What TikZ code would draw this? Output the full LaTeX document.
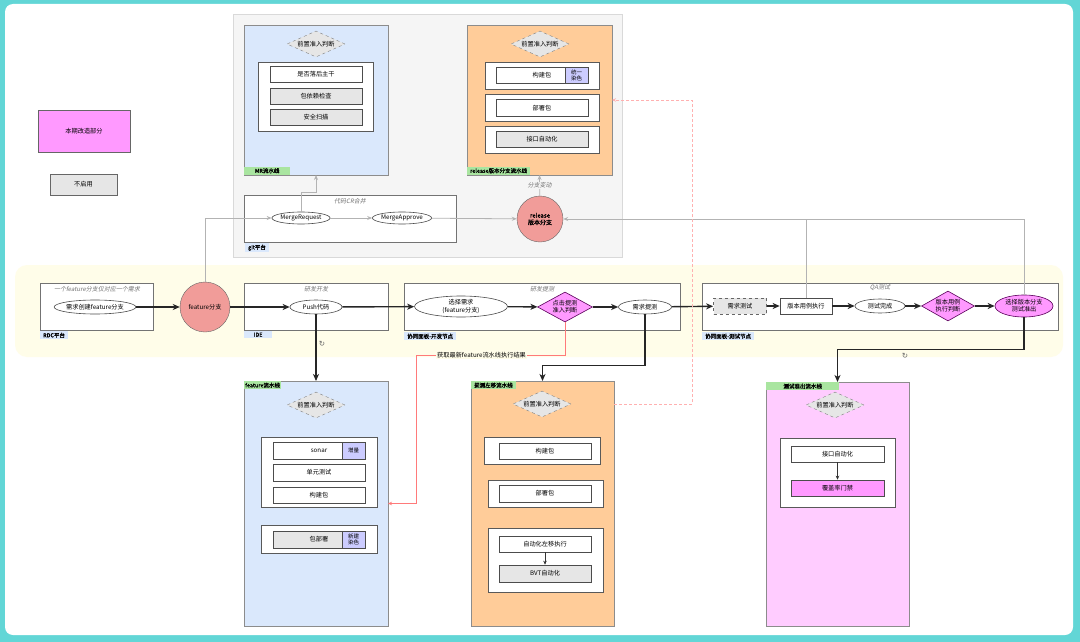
\documentclass[tikz,border=0pt]{standalone}
\usepackage{fontspec}
\setmainfont{Noto Sans CJK SC}
\newfontfamily\kursiv{Noto Sans CJK SC}[FakeSlant=0.2]
\newfontfamily\fett{Noto Sans CJK SC}[FakeBold=1.2]
\newfontfamily\symbole{DejaVu Sans}
\usetikzlibrary{shapes.geometric,arrows.meta,positioning}

\definecolor{rahmen}{HTML}{62D6D6}
\definecolor{hellblau}{HTML}{DAE8FC}
\definecolor{orangepipe}{HTML}{FFCC99}
\definecolor{rosapipe}{HTML}{FFCCFF}
\definecolor{pinkfill}{HTML}{FF99FF}
\definecolor{lila}{HTML}{CCCCFF}
\definecolor{gruen}{HTML}{A9E5A0}
\definecolor{grau}{HTML}{E6E6E6}
\definecolor{gitbg}{HTML}{F5F5F5}
\definecolor{band}{HTML}{FFFDE9}
\definecolor{kreisrot}{HTML}{F19C99}
\definecolor{linierot}{HTML}{FF7A7A}
\definecolor{linierosa}{HTML}{FFB0B0}
\definecolor{verbgrau}{HTML}{B3B3B3}

\begin{document}
\begin{tikzpicture}[x=1pt,y=-1pt,font=\fontsize{6.2}{7.2}\selectfont,
		pipe/.style={draw=black!45,line width=0.7pt,anchor=north west,inner sep=0pt,outer sep=0pt},
		tag/.style={anchor=north west,inner xsep=3pt,inner ysep=1.5pt,font=\fett\fontsize{5.5}{6}\selectfont},
		huelle/.style={draw=black!65,line width=0.6pt,fill=white},
		bereich/.style={draw=black!55,line width=0.7pt,fill=white},
		titel/.style={font=\kursiv\fontsize{6}{7}\selectfont,text=black!55},
		stufe/.style={draw=black!70,line width=0.6pt,fill=white,minimum width=92,minimum height=16,inner sep=0pt},
		farbe/.style={draw=black!70,line width=0.6pt,fill=lila,minimum width=23,minimum height=16,inner sep=0pt,align=center,font=\fontsize{5.5}{6}\selectfont},
		gate/.style={diamond,draw=black!50,dashed,fill=grau,minimum width=58,minimum height=26,aspect=2.2,inner sep=0pt},
		pinkraute/.style={diamond,draw=violet!70!black,line width=0.6pt,fill=pinkfill,minimum width=55,minimum height=30,aspect=1.8,inner sep=0pt,align=center},
		oval/.style={ellipse,draw=black!70,line width=0.6pt,fill=white,inner sep=0pt,minimum height=14},
		fluss/.style={draw=black!85,line width=1.4pt,-{Stealth[length=7pt,width=6pt,inset=2pt]}},
		graupfeil/.style={draw=verbgrau,line width=0.8pt,-{Stealth[length=5pt,width=4pt]}},
		dreh/.style={font=\symbole\fontsize{7.5}{7.5}\selectfont,text=black!60}]
	
	\useasboundingbox (0,0) rectangle (1080,642);
	
	% ----- Rahmen -----
	\fill[rahmen] (0,0) rectangle (1080,642);
	\fill[white,rounded corners=8pt] (5,4) rectangle (1073,635);
	
	% ----- Legende -----
	\node[pipe,fill=pinkfill,draw=black!60,minimum width=92,minimum height=42] (legneu) at (38,110) {本期改造部分};
	\node[pipe,fill=grau,draw=black!60,minimum width=67,minimum height=21] (legaus) at (50,174) {不启用};
	
	% ----- git平台 -----
	\draw[draw=black!15,fill=gitbg] (233,14) rectangle (622,257);
	
	% MR流水线
	\node[pipe,fill=hellblau,minimum width=144,minimum height=150] (mrpipe) at (244,25) {};
	\node[tag,fill=gruen,anchor=south west,minimum width=46] at (mrpipe.south west) {MR流水线};
	\node[gate] (mrgate) at (316,44) {前置准入判断};
	\draw[huelle] (258,62) rectangle (373,131);
	\node[stufe] (mrlag) at (316,74) {是否落后主干};
	\node[stufe,fill=grau] (mrdep) at (316,96) {包依赖检查};
	\node[stufe,fill=grau] (mrscan) at (316,117.5) {安全扫描};
	
	% release版本分支流水线
	\node[pipe,fill=orangepipe,minimum width=145,minimum height=150] (relpipe) at (467,25) {};
	\node[tag,fill=gruen,anchor=south west] at (relpipe.south west) {release版本分支流水线};
	\node[gate] (relgate) at (540,44) {前置准入判断};
	\draw[huelle] (485,62) rectangle (599,89);
	\node[stufe] (relbuild) at (542,75) {构建包};
	\node[farbe] (relcolor) at (576.5,75) {统一\\染色};
	\draw[huelle] (485,94) rectangle (599,121);
	\node[stufe,minimum height=17] (reldeploy) at (542,108) {部署包};
	\draw[huelle] (485,126) rectangle (599,153);
	\node[stufe,fill=grau] (relapi) at (542,139.5) {接口自动化};
	
	% 代码CR合并
	\draw[bereich] (244,195) rectangle (456,242);
	\node[titel] (crtitel) at (350,201) {代码CR合并};
	\node[tag,fill=hellblau] at (245,243) {git平台};
	\node[oval,minimum width=51,minimum height=12] (mreq) at (301,218) {MergeRequest};
	\node[oval,minimum width=50,minimum height=12] (mappr) at (402,218) {MergeApprove};
	\node[circle,draw=black!60,fill=kreisrot,minimum size=46,inner sep=0pt,align=center,font=\fett\fontsize{6}{7}\selectfont] (relbr) at (540,219) {release\\版本分支};
	
	% ----- Hauptstrecke -----
	\fill[band,rounded corners=12pt] (15,265) rectangle (1063,357);
	
	% RDC平台
	\draw[bereich] (40,283) rectangle (153,330);
	\node[titel] at (97,289) {一个feature分支仅对应一个需求};
	\node[tag,fill=hellblau] at (40,331) {RDC平台};
	\node[oval,minimum width=80] (bedarf) at (95,307) {需求创建feature分支};
	
	\node[circle,draw=black!60,fill=kreisrot,minimum size=50,inner sep=0pt] (featbr) at (205,307) {feature分支};
	
	% IDE
	\draw[bereich] (244,283) rectangle (388,330);
	\node[titel] at (316,289) {研发开发};
	\node[tag,fill=hellblau,minimum width=28] at (244,331) {IDE};
	\node[oval,minimum width=52] (push) at (316,307) {Push代码};
	
	% 协同面板-开发节点
	\draw[bereich] (404,283) rectangle (680,330);
	\node[titel] at (542,289) {研发提测};
	\node[tag,fill=hellblau] at (404,332) {协同面板-开发节点};
	\node[oval,minimum width=93,minimum height=21,align=center] (auswahl) at (461,306.5) {选择需求\\(feature分支)};
	\node[pinkraute] (tigate) at (565,307) {点击提测\\准入判断};
	\node[oval,minimum width=53] (tiche) at (645,307) {需求提测};
	
	% 协同面板-测试节点
	\draw[bereich] (702,283) rectangle (1058,330);
	\node[titel] at (880,288) {QA测试};
	\node[tag,fill=hellblau] at (702,332) {协同面板-测试节点};
	\node[stufe,minimum width=53,fill=grau,dashed,draw=black!60] (bedtest) at (740,306) {需求测试};
	\node[stufe,minimum width=52] (verexec) at (806,306) {版本用例执行};
	\node[oval,minimum width=50] (fertig) at (880,306) {测试完成};
	\node[pinkraute,minimum width=53] (vergate) at (948,306) {版本用例\\执行判断};
	\node[ellipse,draw=violet!70!black,line width=0.6pt,fill=pinkfill,minimum width=58,minimum height=22,inner sep=0pt,align=center] (exitsel) at (1024,306) {选择版本分支\\测试准出};
	
	\draw[fluss] (bedarf) -- (featbr);
	\draw[fluss] (featbr) -- (push);
	\draw[fluss] (push) -- (auswahl);
	\draw[fluss] (auswahl) -- (tigate);
	\draw[fluss] (tigate) -- (tiche);
	\draw[fluss] (tiche) -- (bedtest);
	\draw[fluss] (bedtest) -- (verexec);
	\draw[fluss] (verexec) -- (fertig);
	\draw[fluss] (fertig) -- (vergate);
	\draw[fluss] (vergate) -- (exitsel);
	
	% ----- feature流水线 -----
	\node[pipe,fill=hellblau,minimum width=144,minimum height=245] (featpipe) at (244,381) {};
	\node[tag,fill=gruen,inner xsep=1pt] at (featpipe.north west) {feature流水线};
	\node[gate] (featgate) at (316,405) {前置准入判断};
	\draw[huelle] (261,437) rectangle (377,507);
	\node[stufe,minimum height=17] (sonar) at (319,450.5) {sonar};
	\node[farbe,minimum height=17] (inkr) at (353.5,450.5) {增量};
	\node[stufe,minimum height=17] (unit) at (319,472.5) {单元测试};
	\node[stufe] (featbuild) at (319,495) {构建包};
	\draw[huelle] (261,525) rectangle (377,553);
	\node[stufe,fill=grau,minimum height=17] (featdeploy) at (319,539.5) {包部署};
	\node[farbe,minimum height=17] (neucolor) at (353.5,539.5) {新建\\染色};
	
	% ----- 提测左移流水线 -----
	\node[pipe,fill=orangepipe,minimum width=143,minimum height=245] (tcpipe) at (471,381) {};
	\node[tag,fill=gruen] at (tcpipe.north west) {提测左移流水线};
	\node[gate] (tcgate) at (542,404) {前置准入判断};
	\draw[huelle] (484,437) rectangle (600,464);
	\node[stufe] (tcbuild) at (545,451) {构建包};
	\draw[huelle] (488,480) rectangle (603,507);
	\node[stufe,minimum height=17] (tcdeploy) at (545,493.5) {部署包};
	\draw[huelle] (488,528) rectangle (603,592);
	\node[stufe] (tcauto) at (545,544) {自动化左移执行};
	\node[stufe,fill=grau,minimum height=17] (tcbvt) at (545,573.5) {BVT自动化};
	\draw[-{Stealth[length=4pt,width=3.5pt]},draw=black!80,line width=0.6pt] (tcauto) -- (tcbvt);
	
	% ----- 测试准出流水线 -----
	\node[pipe,fill=rosapipe,minimum width=143,minimum height=244] (qapipe) at (766,382) {};
	\node[tag,fill=gruen,minimum width=73] at (qapipe.north west) {测试准出流水线};
	\node[gate] (qagate) at (835,405) {前置准入判断};
	\draw[huelle] (780,438) rectangle (895,507);
	\node[stufe,minimum width=93] (qaapi) at (837.5,454) {接口自动化};
	\node[stufe,minimum width=93,fill=pinkfill] (qacov) at (837.5,488) {覆盖率门禁};
	\draw[-{Stealth[length=4pt,width=3.5pt]},draw=black!80,line width=0.6pt] (qaapi) -- (qacov);
	
	% ----- Verbindungen nach unten -----
	\draw[fluss,line width=1.1pt] (push.south) -- (featpipe.north);
	\node[dreh] (dreh1) at (322,344) {↻};
	\draw[fluss,line width=1.1pt] (tiche.south) -- ++(0,51) -| (tcpipe.north);
	\draw[fluss,line width=1.1pt] (exitsel.south) -- ++(0,32) -| (qapipe.north);
	\node[dreh] (dreh2) at (905,356) {↻};
	
	% ----- graue Verbindungen -----
	\draw[graupfeil] (featbr.north) |- (mreq.west);
	\draw[graupfeil] (mreq.north) -- ++(0,-19) -| (mrpipe.south);
	\draw[graupfeil] (mreq) -- (mappr);
	\draw[graupfeil] (mappr) -- (relbr);
	\draw[graupfeil] (relbr) -- (relpipe.south) node[midway,fill=gitbg,inner sep=1pt,titel] {分支变动};
	\draw[graupfeil] (exitsel.north) |- (relbr.east);
	\draw[draw=verbgrau,line width=0.8pt] (verexec.north) -- (verexec.north |- relbr.east);
	
	% ----- rote Verbindungen -----
	\coordinate (knick) at (692,404);
	\draw[draw=linierosa,densely dashed,line width=0.6pt,-{Stealth[length=4pt,width=3.5pt]}] (tcgate.east -| tcpipe.east) -- (knick) |- (relpipe.east);
	\coordinate (rotknick) at (416,355);
	\draw[draw=linierot,line width=0.7pt,-{Stealth[length=4pt,width=3.5pt]}] (tigate.south) |- (rotknick) node[pos=0.78,fill=band,inner sep=1pt] {获取最新feature流水线执行结果} |- (featpipe.east);
	
\end{tikzpicture}
\end{document}
